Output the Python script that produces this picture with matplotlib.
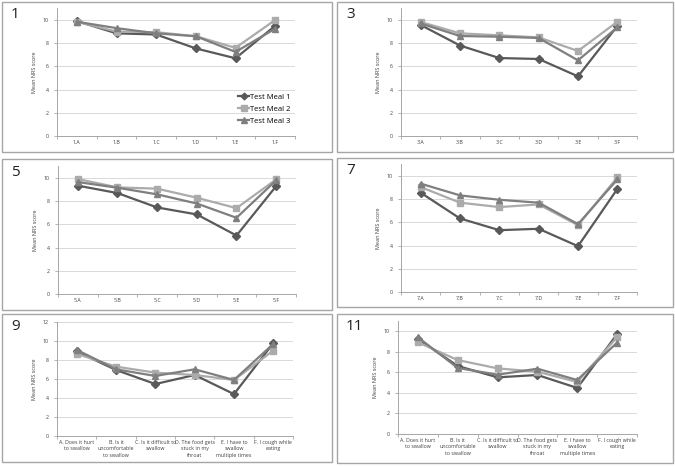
import matplotlib
matplotlib.use("Agg")
import matplotlib.pyplot as plt
from matplotlib.patches import Rectangle

plt.rcParams['font.family'] = ['Open Sans', 'DejaVu Sans']

W, H = 675, 466

meal_names = ["Test Meal 1", "Test Meal 2", "Test Meal 3"]
meal_colors = ["#595959", "#ABABAB", "#7F7F7F"]
meal_markers = ["D", "s", "^"]

long_labels = ["A. Does it hurt\nto swallow", "B. Is it\nuncomfortable\nto swallow",
               "C. Is it difficult to\nswallow", "D. The food gets\nstuck in my\nthroat",
               "E. I have to\nswallow\nmultiple times", "F. I cough while\neating"]

labels_1 = ["1.A", "1.B", "1.C", "1.D", "1.E", "1.F"]
p1_meal1 = [9.9, 8.85, 8.75, 7.55, 6.7, 9.5]
p1_meal2 = [9.85, 9.0, 8.95, 8.6, 7.6, 10.0]
p1_meal3 = [9.85, 9.3, 8.85, 8.6, 7.25, 9.25]

labels_3 = ["3.A", "3.B", "3.C", "3.D", "3.E", "3.F"]
p3_meal1 = [9.57, 7.8, 6.72, 6.64, 5.14, 9.48]
p3_meal2 = [9.83, 8.85, 8.68, 8.5, 7.33, 9.85]
p3_meal3 = [9.7, 8.62, 8.56, 8.45, 6.52, 9.37]

labels_5 = ["5.A", "5.B", "5.C", "5.D", "5.E", "5.F"]
p5_meal1 = [9.34, 8.7, 7.46, 6.86, 5.04, 9.3]
p5_meal2 = [9.91, 9.19, 9.08, 8.3, 7.4, 9.88]
p5_meal3 = [9.65, 9.16, 8.59, 7.8, 6.57, 9.8]

labels_7 = ["7.A", "7.B", "7.C", "7.D", "7.E", "7.F"]
p7_meal1 = [8.56, 6.34, 5.33, 5.45, 3.95, 8.88]
p7_meal2 = [9.05, 7.7, 7.32, 7.55, 5.76, 9.88]
p7_meal3 = [9.34, 8.33, 7.95, 7.7, 5.85, 9.7]

p9_meal1 = [8.9, 6.95, 5.47, 6.42, 4.41, 9.78]
p9_meal2 = [8.65, 7.3, 6.67, 6.42, 5.9, 9.0]
p9_meal3 = [9.07, 7.02, 6.32, 7.02, 5.9, 9.7]

p11_meal1 = [9.22, 6.6, 5.5, 5.73, 4.47, 9.7]
p11_meal2 = [8.9, 7.18, 6.37, 6.05, 5.05, 9.39]
p11_meal3 = [9.39, 6.41, 5.76, 6.34, 5.24, 8.87]

# panel: number, box (x0,y0,x1,y1 px), axes (xl, xr, ytop, ybottom px), ymax, labels, data
panels = [
    ("1", (2, 2, 332, 152), (57, 295, 8.4, 136), 11, labels_1, [p1_meal1, p1_meal2, p1_meal3]),
    ("3", (337, 2, 673, 152), (401, 637, 8.4, 136), 11, labels_3, [p3_meal1, p3_meal2, p3_meal3]),
    ("5", (2, 159, 332, 310), (58, 296, 166.4, 294), 11, labels_5, [p5_meal1, p5_meal2, p5_meal3]),
    ("7", (337, 158, 673, 307), (401, 637, 164.4, 292), 11, labels_7, [p7_meal1, p7_meal2, p7_meal3]),
    ("9", (2, 314, 332, 462), (57, 293, 322, 436), 12, long_labels, [p9_meal1, p9_meal2, p9_meal3]),
    ("11", (337, 314, 673, 463), (398, 637, 320.7, 434), 11, long_labels, [p11_meal1, p11_meal2, p11_meal3]),
]

fig = plt.figure(figsize=(W / 100, H / 100), dpi=100)
fig.patch.set_facecolor("white")

legend_handles = None
for num, box, axp, ymax, labels, data in panels:
    bx0, by0, bx1, by1 = box
    fig.add_artist(Rectangle((bx0 / W, 1 - by1 / H), (bx1 - bx0) / W, (by1 - by0) / H,
                             transform=fig.transFigure, fill=False, edgecolor="#A6A6A6", lw=1.0))
    fig.text((bx0 + 9) / W, 1 - (by0 + 13) / H, num, fontsize=11, color="#222222",
             ha="left", va="center")
    xl, xr, yt, yb = axp
    ax = fig.add_axes([xl / W, 1 - yb / H, (xr - xl) / W, (yb - yt) / H])
    x = list(range(len(labels)))
    handles = []
    for vals, c, m, name in zip(data, meal_colors, meal_markers, meal_names):
        h, = ax.plot(x, vals, color=c, marker=m, markersize=4.2 if m != "D" else 3.8,
                     lw=1.6, label=name, markeredgecolor=c, markerfacecolor=c)
        handles.append(h)
    if legend_handles is None:
        legend_handles = handles
        fig.legend(handles=handles, loc="upper left", bbox_to_anchor=(233 / W, 1 - 88 / H),
                   frameon=False, fontsize=5.5, handlelength=1.4, handletextpad=0.1,
                   labelspacing=0.6, borderpad=0.2, markerscale=0.9)
    ax.set_xlim(-0.5, len(labels) - 0.5)
    ax.set_ylim(0, ymax)
    ax.set_yticks(list(range(0, ymax + 1, 2)))
    ax.yaxis.grid(True, color="#D9D9D9", lw=0.7)
    ax.set_axisbelow(True)
    ax.set_xticks(x)
    ax.set_xticklabels(labels, fontsize=3.8, color="#404040", linespacing=1.3)
    ax.set_xticks([i - 0.5 for i in range(len(labels) + 1)], minor=True)
    ax.tick_params(axis="x", which="major", length=0, pad=3)
    ax.tick_params(axis="x", which="minor", length=2.5, color="#A6A6A6", width=0.6)
    ax.tick_params(axis="y", length=2, color="#A6A6A6", width=0.6, labelsize=3.8,
                   labelcolor="#404040", pad=4)
    for s in ["top", "right"]:
        ax.spines[s].set_visible(False)
    for s in ["left", "bottom"]:
        ax.spines[s].set_color("#A6A6A6")
        ax.spines[s].set_linewidth(0.7)
    ax.set_ylabel("Mean NRS score", fontsize=4, color="#404040", labelpad=4)

fig.savefig("out.png", dpi=100, facecolor="white")
